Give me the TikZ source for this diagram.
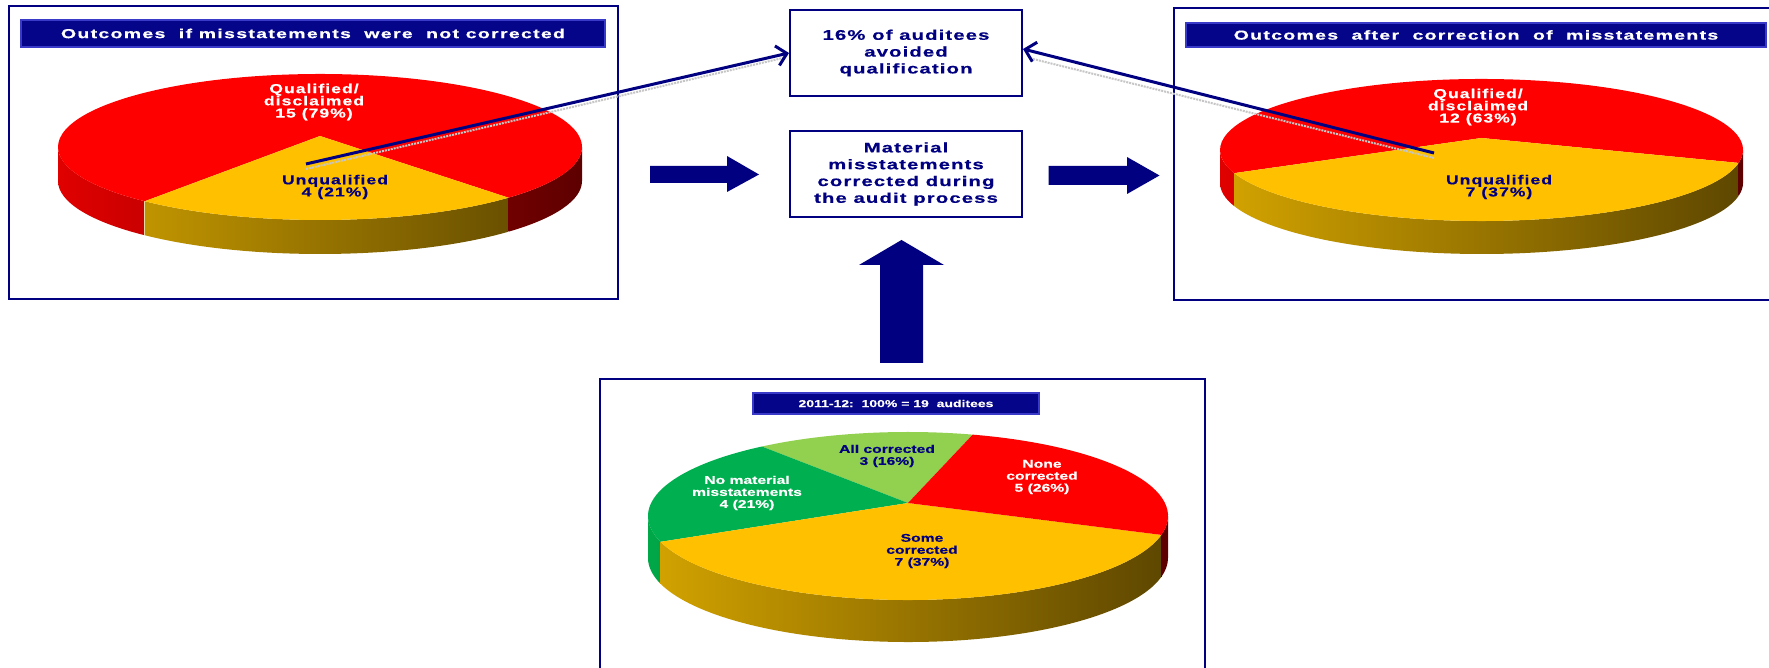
\documentclass[tikz,border=0pt]{standalone}
\usepackage{fontspec}
\setmainfont{Liberation Sans}
\newfontfamily\ttlfont[FakeStretch=1.5,LetterSpace=10,FakeBold=0.5]{Liberation Sans}
\newfontfamily\boxfont[FakeStretch=1.45,LetterSpace=8,FakeBold=0.5]{Liberation Sans}
\newfontfamily\wfont[FakeStretch=1.35,LetterSpace=8,FakeBold=0.5]{Liberation Sans}
\newfontfamily\nfont[FakeStretch=1.4,FakeBold=0.3]{Liberation Sans}
\usetikzlibrary{arrows.meta}
\definecolor{navy}{HTML}{000080}
\definecolor{barblue}{HTML}{05058A}
\definecolor{barhi}{HTML}{3A3AC8}
\definecolor{pred}{HTML}{FF0000}
\definecolor{pyel}{HTML}{FFC000}
\definecolor{pgrn}{HTML}{00B050}
\definecolor{plgr}{HTML}{92D050}
\definecolor{ylight}{HTML}{D4A400}
\definecolor{ydark}{HTML}{5E4700}
\definecolor{rlight}{HTML}{E00000}
\definecolor{rdark}{HTML}{5E0000}
\definecolor{glight}{HTML}{00A848}
\definecolor{gdark}{HTML}{006028}
% slice: cx, cy, rx, ry, start, end, colour, vertex y
\newcommand\myslice[8]{\fill[#7] (#1,#8) -- ({#1+#3*cos(#5)},{#2+#4*sin(#5)}) arc[start angle=#5,end angle=#6,x radius=#3,y radius=#4] -- cycle;}
% side band: cx, cy, rx, ry, depth, start, end, left colour, right colour
\newcommand\myside[9]{\shade[left color=#8,right color=#9] ({#1+#3*cos(#6)},{#2+#4*sin(#6)}) arc[start angle=#6,end angle=#7,x radius=#3,y radius=#4] -- ++(0,-#5) arc[start angle=#7,end angle=#6,x radius=#3,y radius=#4] -- cycle;}
\tikzset{
  boxframe/.style={draw=navy, line width=2pt},
  titlebar/.style={draw=barhi, line width=1.2pt, fill=barblue, inner sep=0pt},
  titletext/.style={text=white, font=\ttlfont\bfseries\fontsize{13}{16}\selectfont},
  textbox/.style={draw=navy, line width=2pt, minimum width=232pt, minimum height=86pt, inner sep=0pt, align=center, text=navy, font=\boxfont\bfseries\fontsize{14}{16.8}\selectfont},
  wlabel/.style={align=center, text=white, inner sep=0pt, font=\wfont\bfseries\fontsize{13}{12.2}\selectfont},
  nlabel/.style={align=center, text=navy, inner sep=0pt, font=\wfont\bfseries\fontsize{13}{12.2}\selectfont},
  wsmall/.style={align=center, text=white, inner sep=0pt, font=\nfont\bfseries\fontsize{11.2}{12}\selectfont},
  nsmall/.style={align=center, text=navy, inner sep=0pt, font=\nfont\bfseries\fontsize{11.2}{12}\selectfont},
  blockarrow/.style={fill=navy},
  connector/.style={draw=navy, line width=3pt, -{Straight Barb[length=10pt,width=20pt,line width=3pt]}},
  conshadow/.style={draw=gray!45, line width=2pt, densely dotted},
}
\begin{document}
\begin{tikzpicture}[x=1pt,y=1pt]
\useasboundingbox (0,0) rectangle (1769,668);
\clip (0,0) rectangle (1769,668);
\fill[white] (0,0) rectangle (1769,668);

% ---------- frames ----------
\draw[boxframe] (9,662) rectangle (618,369);
\draw[boxframe] (1174,660) rectangle (1790,368);
\draw[boxframe] (600,289) rectangle (1205,-30);

% ---------- title bars ----------
\node[titlebar, minimum width=584pt, minimum height=27pt] (t1) at (313,634.5) {};
\node[titletext] at (t1.center) {Outcomes\ \ if misstatements\ \ were\ \ not corrected};
\node[titlebar, minimum width=580pt, minimum height=24pt] (t2) at (1476,633) {};
\node[titletext] at (t2.center) {Outcomes\ \ after\ \ correction\ \ of\ \ misstatements};
\node[titlebar, minimum width=286pt, minimum height=21pt] (t3) at (896,264.5) {};
\node[text=white, font=\nfont\bfseries\fontsize{10}{12}\selectfont] at (t3.center) {2011-12:\ \ 100\% = 19\ \ auditees};

% ---------- left pie ----------
\myside{320}{521}{262}{73}{34}{180}{228}{rlight}{rlight!83!rdark}
\myside{320}{521}{262}{73}{34}{228}{316}{ylight!83!ydark}{ylight!10!ydark}
\myside{320}{521}{262}{73}{34}{316}{360}{rlight!14!rdark}{rdark}
\myslice{320}{521}{262}{73}{316}{588}{pred}{532}
\myslice{320}{521}{262}{73}{228}{316}{pyel}{532}
\node[wlabel] at (314,566) {Qualified/\\disclaimed\\15 (79\%)};
\node[nlabel] at (335,481) {Unqualified\\4 (21\%)};

% ---------- right pie ----------
\myside{1481.5}{518}{261.5}{71}{33}{180}{199}{rlight}{rlight!97!rdark}
\myside{1481.5}{518}{261.5}{71}{33}{199}{349.5}{ylight!97!ydark}{ydark}
\myside{1481.5}{518}{261.5}{71}{33}{349.5}{360}{rdark}{rdark}
\myslice{1481.5}{518}{261.5}{71}{349.5}{559}{pred}{530}
\myslice{1481.5}{518}{261.5}{71}{199}{349.5}{pyel}{530}
\node[wlabel] at (1478,561) {Qualified/\\disclaimed\\12 (63\%)};
\node[nlabel] at (1499,481) {Unqualified\\7 (37\%)};

% ---------- bottom pie ----------
\myside{908}{152}{260}{84}{42}{180}{197.9}{glight}{glight!95!gdark}
\myside{908}{152}{260}{84}{42}{197.9}{347}{ylight!97!ydark}{ydark}
\myside{908}{152}{260}{84}{42}{347}{360}{rdark}{rdark}
\myslice{908}{152}{260}{84}{75.6}{124.2}{plgr}{165}
\myslice{908}{152}{260}{84}{124.2}{197.9}{pgrn}{165}
\myslice{908}{152}{260}{84}{197.9}{347}{pyel}{165}
\myslice{908}{152}{260}{84}{347}{435.6}{pred}{165}
\node[nsmall] at (887,212) {All corrected\\3 (16\%)};
\node[wsmall] at (1042,191) {None\\corrected\\5 (26\%)};
\node[wsmall] at (747,175) {No material\\misstatements\\4 (21\%)};
\node[nsmall] at (922,117) {Some\\corrected\\7 (37\%)};

% ---------- centre boxes ----------
\node[textbox] (avoid) at (906,615) {16\% of auditees\\avoided\\qualification};
\node[textbox] (corr) at (906,494) {Material\\misstatements\\corrected during\\the audit process};

% ---------- block arrows ----------
\fill[blockarrow] (650,502) -- (727,502) -- (727,512) -- (759,493.5) -- (727,476) -- (727,485) -- (650,485) -- cycle;
\fill[blockarrow] (1048.5,502) -- (1127,502) -- (1127,511) -- (1159.5,492.5) -- (1127,474) -- (1127,483) -- (1048.5,483) -- cycle;
\fill[blockarrow] (880,305) -- (880,403) -- (859,403) -- (901.5,428) -- (944,403) -- (923,403) -- (923,305) -- cycle;

% ---------- connectors ----------
\coordinate (lpc) at (306,504);
\coordinate (rpc) at (1434,515);
\draw[conshadow] ([yshift=-5pt]lpc) -- ([yshift=-5pt,xshift=-6pt]avoid.west);
\draw[conshadow] ([yshift=-5pt]rpc) -- ([yshift=-5pt,xshift=6pt]avoid.east);
\draw[connector] (lpc) -- (avoid.west);
\draw[connector] (rpc) -- ([yshift=4pt]avoid.east);
\end{tikzpicture}
\end{document}
